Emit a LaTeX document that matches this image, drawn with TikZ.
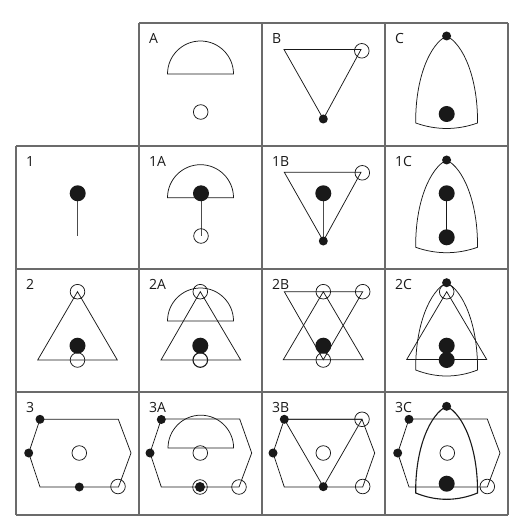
\documentclass[tikz,border=0pt]{standalone}
\usepackage{fontspec}
\setmainfont{Open Sans}
\definecolor{gridc}{gray}{0.42}
\definecolor{ink}{gray}{0.1}
\newcommand\myopc[3][]{\draw[shp,#1] (#2,#3) circle[radius=7.3pt];}
\newcommand\mysdot[2]{\fill[ink] (#1,#2) circle[radius=4.5pt];}
\newcommand\mybdot[2]{\fill[ink] (#1,#2) circle[radius=8pt];}
\newcommand\mysemi[3]{\draw[shp] ({#1-#3},#2) arc[start angle=180,end angle=0,radius=#3pt] -- cycle;}
\newcommand\myarch[4][]{\draw[shp,#1] (30.7,#3) .. controls (30.2,{#3-45}) and (45,{#2+8}) .. (61.6,#2) .. controls (78.2,{#2+8}) and (93,{#3-45}) .. (92.5,#3) .. controls (72,#4) and (51.2,#4) .. cycle;}
\begin{document}
\begin{tikzpicture}[x=1pt,y=-1pt,
  gridline/.style={draw=gridc, line width=1.1pt},
  shp/.style={draw=ink, line width=0.75pt, line join=miter},
  stick/.style={draw=gray!60!black, line width=0.9pt},
  lbl/.style={anchor=base west, inner sep=0pt, font=\fontsize{14}{14}\selectfont, text=ink}]
\useasboundingbox (0,0) rectangle (518,529);
% grid
\draw[gridline] (139,23) -- (508,23);
\foreach \yy in {146,269,392,515} {\draw[gridline] (16,\yy) -- (508,\yy);}
\draw[gridline] (16,146) -- (16,515);
\foreach \xx in {139,262,385,508} {\draw[gridline] (\xx,23) -- (\xx,515);}
% ---------- row 0
\begin{scope}[shift={(139,23)}]
  \node[lbl] (lA) at (10,20.5) {A};
  \mysemi{61.5}{51}{33}
  \myopc{61.7}{89}
\end{scope}
\begin{scope}[shift={(262,23)}]
  \node[lbl] (lB) at (10,20.5) {B};
  \draw[shp] (22,26.5) -- (99,26.5) -- (61.3,96) -- cycle;
  \myopc{99.8}{27.8}
  \mysdot{61.3}{96}
\end{scope}
\begin{scope}[shift={(385,23)}]
  \node[lbl] (lC) at (10,20.5) {C};
  \myarch{13}{100}{107.3}
  \mysdot{61.6}{13}
  \mybdot{61.7}{91}
\end{scope}
% ---------- row 1
\begin{scope}[shift={(16,146)}]
  \node[lbl] (l1) at (10,20.5) {1};
  \draw[stick] (61.7,47.3) -- (61.7,90);
  \mybdot{61.7}{47.3}
\end{scope}
\begin{scope}[shift={(139,146)}]
  \node[lbl] (l1A) at (10,20.5) {1A};
  \mysemi{61.5}{51.7}{33}
  \draw[stick] (62,47.3) -- (62,90);
  \myopc{62}{90}
  \mybdot{62}{47.3}
\end{scope}
\begin{scope}[shift={(262,146)}]
  \node[lbl] (l1B) at (10,20.5) {1B};
  \draw[shp] (22.3,26.3) -- (99,26.3) -- (61.3,95) -- cycle;
  \myopc{100.3}{26.8}
  \draw[stick] (61.3,47.3) -- (61.3,95);
  \mybdot{61.3}{47.3}
  \mysdot{61.3}{95}
\end{scope}
\begin{scope}[shift={(385,146)}]
  \node[lbl] (l1C) at (10,20.5) {1C};
  \myarch{14}{101.3}{108.5}
  \draw[shp] (61.7,47.3) -- (61.7,91.3);
  \mysdot{61.6}{14}
  \mybdot{61.7}{47.3}
  \mybdot{61.7}{91.3}
\end{scope}
% ---------- row 2
\begin{scope}[shift={(16,269)}]
  \node[lbl] (l2) at (10,20.5) {2};
  \draw[shp] (61.5,22.7) -- (101.3,91) -- (21.7,91) -- cycle;
  \myopc{61.5}{22.7}
  \myopc{61.5}{91}
  \mybdot{61.5}{76.7}
\end{scope}
\begin{scope}[shift={(139,269)}]
  \node[lbl] (l2A) at (10,20.5) {2A};
  \mysemi{61.5}{52}{33}
  \draw[shp] (61.3,22.7) -- (101.7,91) -- (22,91) -- cycle;
  \myopc{61.3}{22.7}
  \myopc[line width=1.1pt]{61.3}{91}
  \mybdot{61.3}{76.7}
\end{scope}
\begin{scope}[shift={(262,269)}]
  \node[lbl] (l2B) at (10,20.5) {2B};
  \draw[shp] (22.3,22.7) -- (100.7,22.7) -- (61.3,90.7) -- cycle;
  \draw[shp] (61.3,22.7) -- (101.3,90.7) -- (21.3,90.7) -- cycle;
  \myopc{61.3}{22.7}
  \myopc{100.7}{22.7}
  \myopc{61.3}{91}
  \mybdot{61.3}{76.7}
\end{scope}
\begin{scope}[shift={(385,269)}]
  \node[lbl] (l2C) at (10,20.5) {2C};
  \draw[shp] (61.7,22.7) -- (101.7,90.5) -- (21.7,90.5) -- cycle;
  \myarch{13.7}{101}{109}
  \myopc{61.7}{22.7}
  \mysdot{61.6}{13.7}
  \mybdot{61.7}{76.7}
  \mybdot{61.7}{91}
\end{scope}
% ---------- row 3
\begin{scope}[shift={(16,392)}]
  \node[lbl] (l3) at (10,20.5) {3};
  \draw[shp] (24,27.3) -- (102.3,27.3) -- (115,61) -- (102.5,95) -- (24,95) -- (12.7,61) -- cycle;
  \myopc{63.3}{61}
  \myopc{102}{94.5}
  \mysdot{24}{27.3}
  \mysdot{12.7}{61}
  \mysdot{63.3}{95}
\end{scope}
\begin{scope}[shift={(139,392)}]
  \node[lbl] (l3A) at (10,20.5) {3A};
  \draw[shp] (22.3,27) -- (100.7,27) -- (112.7,61) -- (100,95) -- (22.3,95) -- (11,61) -- cycle;
  \mysemi{61.8}{56}{32.8}
  \myopc{61.3}{61}
  \myopc{100}{95}
  \myopc{61}{95}
  \fill[ink] (61,95) circle[radius=5pt];
  \mysdot{22.3}{27.5}
  \mysdot{11}{61}
\end{scope}
\begin{scope}[shift={(262,392)}]
  \node[lbl] (l3B) at (10,20.5) {3B};
  \draw[shp] (22.3,27.3) -- (100,27.3) -- (112.7,61) -- (100.7,95) -- (22.3,95) -- (11,61) -- cycle;
  \draw[shp] (22.3,27.3) -- (100,27.3) -- (61.3,94.7) -- cycle;
  \myopc{100}{27.3}
  \myopc{100.7}{94.5}
  \myopc{61.3}{61}
  \mysdot{22.3}{27.3}
  \mysdot{11}{61}
  \mysdot{61.3}{94.7}
\end{scope}
\begin{scope}[shift={(385,392)}]
  \node[lbl] (l3C) at (10,20.5) {3C};
  \draw[shp] (24,27) -- (102.3,27) -- (115,61) -- (102.3,95) -- (24,95) -- (12.7,61) -- cycle;
  \myarch[line width=1.1pt]{14.3}{101}{109.4}
  \myopc{62.3}{61}
  \myopc{102.3}{94.5}
  \mysdot{24}{27.3}
  \mysdot{12.7}{61}
  \mysdot{61.6}{14.3}
  \mybdot{61.7}{91.7}
\end{scope}
\end{tikzpicture}
\end{document}
